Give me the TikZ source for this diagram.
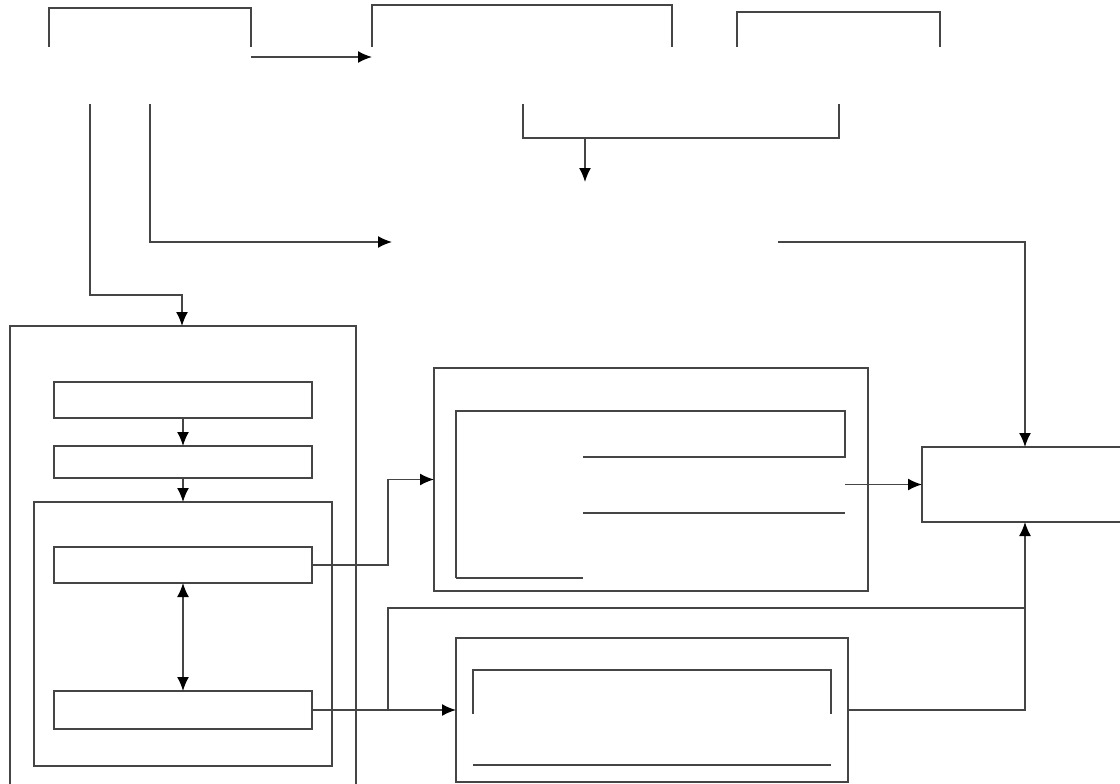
\documentclass[tikz,border=0pt]{standalone}
\usetikzlibrary{arrows.meta}
\definecolor{edge}{gray}{0.27}
\tikzset{
  box/.style={draw=edge,line width=1.6pt,inner sep=0pt,outer sep=0pt,anchor=north west},
  wire/.style={draw=edge,line width=1.6pt},
  flow/.style={wire,-{Latex[length=14pt,width=12pt,color=black]}},
  both/.style={wire,{Latex[length=14pt,width=12pt,color=black]}-{Latex[length=14pt,width=12pt,color=black]}}
}
\begin{document}
\begin{tikzpicture}[x=1pt,y=-1pt]
  \useasboundingbox[fill=white] (0,0) rectangle (1120,784);
  % top row, open boxes
  \draw[wire] (49,47)--(49,8)--(251,8)--(251,47);
  \draw[wire] (372,47)--(372,5)--(672,5)--(672,47);
  \draw[wire] (737,47)--(737,12)--(940,12)--(940,47);
  \coordinate (aOut) at (251,57);
  \coordinate (bIn) at (372,57);
  \draw[flow] (aOut)--(bIn);
  % bracket under the top row
  \draw[wire] (523,104)--(523,138)--(839,138)--(839,104);
  \coordinate (brk) at (585,138);
  \coordinate (brkEnd) at (585,182);
  \draw[flow] (brk)--(brkEnd);
  % left block
  \draw[wire] (10,790)--(10,326)--(356,326)--(356,790);
  \coordinate (leftTop) at (182,326);
  \node[box,minimum width=258pt,minimum height=36pt] (stepA) at (54,382) {};
  \node[box,minimum width=258pt,minimum height=32pt] (stepB) at (54,446) {};
  \node[box,minimum width=298pt,minimum height=264pt] (inner) at (34,502) {};
  \node[box,minimum width=258pt,minimum height=36pt] (stepC) at (54,547) {};
  \node[box,minimum width=258pt,minimum height=38pt] (stepD) at (54,691) {};
  \draw[flow] (stepA.south)--(stepB.north);
  \draw[flow] (stepB.south)--(inner.north);
  \draw[both] (stepC.south)--(stepD.north);
  % feeds from the top
  \coordinate (feedL) at (90,104);
  \coordinate (feedR) at (150,104);
  \coordinate (midIn) at (392,242);
  \coordinate (midOut) at (778,242);
  \draw[flow] (feedL)--(90,295)-|(leftTop);
  \draw[flow] (feedR)|-(midIn);
  % middle box
  \node[box,minimum width=434pt,minimum height=223pt] (model) at (434,368) {};
  \draw[wire] (456,578)--(456,411)--(845,411)--(845,457)--(583,457);
  \draw[wire] (583,513)--(845,513);
  \draw[wire] (456,578)--(583,578);
  % lower box
  \node[box,minimum width=392pt,minimum height=144pt] (test) at (456,638) {};
  \draw[wire] (473,714)--(473,670)--(831,670)--(831,714);
  \draw[wire] (473,765)--(831,765);
  % right box
  \node[box,minimum width=210pt,minimum height=75pt] (result) at (922,447) {};
  % connectors
  \coordinate (split) at (388,0);
  \coordinate (join) at (1025,0);
  \coordinate (gOut) at (845,0);
  \draw[flow] (stepC.east)--(stepC.east-|split)|-(model.west);
  \draw[flow] (stepD.east)--(test.west);
  \draw[wire] (stepD.east-|split)--(388,608)-|(join|-test.east);
  \draw[flow] (result.west-|gOut)--(result.west);
  \draw[flow] (midOut)-|(result.north-|join);
  \draw[flow] (test.east)-|(result.south-|join);
\end{tikzpicture}
\end{document}
